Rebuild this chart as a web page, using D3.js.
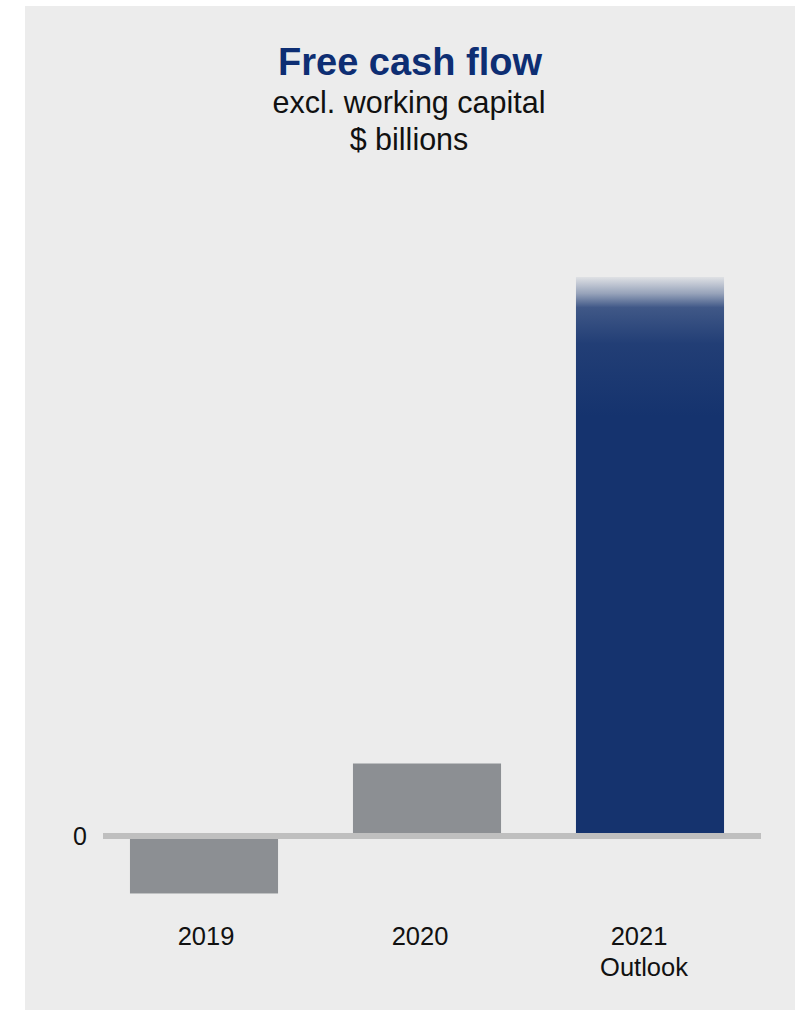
<!DOCTYPE html>
<html>
<head>
<meta charset="utf-8">
<script src="https://d3js.org/d3.v7.min.js"></script>
<style>
  html, body { margin: 0; padding: 0; background: #fff; }
  svg { display: block; font-family: "Liberation Sans", Arial, sans-serif; }
</style>
</head>
<body>
<div id="chart"></div>
<script>
// chart data
const categories = ["2019", "2020", "2021"];
const subLabels = ["", "", "Outlook"];
const values = [-0.87, 1.0, 8.0];
const barColors = ["#8c8f93", "#8c8f93", "#15336e"];
const yTicks = [0];

// layout
const width = 795, height = 1010;
const labelShift = [2, -7, -11]; // labels in the source sit a bit off the bar centres

const svg = d3.select("#chart").append("svg")
  .attr("width", width)
  .attr("height", height);

// grey panel
svg.append("rect")
  .attr("x", 25).attr("y", 6)
  .attr("width", width - 25).attr("height", height - 6)
  .attr("fill", "#ececec");

// titles
svg.append("text")
  .attr("x", 410).attr("y", 75)
  .attr("text-anchor", "middle")
  .attr("font-size", 38).attr("font-weight", "bold")
  .attr("fill", "#0e2e73")
  .text("Free cash flow");

svg.append("text")
  .attr("x", 409).attr("y", 113)
  .attr("text-anchor", "middle")
  .attr("font-size", 30.5)
  .attr("fill", "#111")
  .text("excl. working capital");

svg.append("text")
  .attr("x", 409).attr("y", 150)
  .attr("text-anchor", "middle")
  .attr("font-size", 30.5)
  .attr("fill", "#111")
  .text("$ billions");

// scales
const x = d3.scaleBand()
  .domain(categories)
  .range([92.5, 761.5])
  .paddingInner(0.336)
  .paddingOuter(0.168);

const y = d3.scaleLinear()
  .domain([0, 8])
  .range([833, 277]);

// fade at the top of the outlook bar
const defs = svg.append("defs");
const grad = defs.append("linearGradient")
  .attr("id", "fade")
  .attr("x1", 0).attr("y1", 0).attr("x2", 0).attr("y2", 1);
[[0, 0.06], [0.03, 0.4], [0.055, 0.8], [0.12, 0.94], [0.25, 1]].forEach(([o, a]) => {
  grad.append("stop")
    .attr("offset", o)
    .attr("stop-color", "#15336e")
    .attr("stop-opacity", a);
});

const data = categories.map((c, i) => ({ cat: c, sub: subLabels[i], value: values[i], color: barColors[i], i }));

svg.append("g")
  .selectAll("rect")
  .data(data)
  .join("rect")
  .attr("x", d => x(d.cat))
  .attr("width", x.bandwidth())
  .attr("y", d => Math.min(y(0), y(d.value)))
  .attr("height", d => Math.abs(y(d.value) - y(0)))
  .attr("fill", d => d.cat === "2021" ? "url(#fade)" : d.color);

// zero line
svg.append("rect")
  .attr("x", 103).attr("y", y(0))
  .attr("width", 761 - 103).attr("height", 6)
  .attr("fill", "#bfbfbf");

// y tick
svg.append("g")
  .selectAll("text")
  .data(yTicks)
  .join("text")
  .attr("x", 80).attr("y", d => y(d) + 12)
  .attr("text-anchor", "middle")
  .attr("font-size", 25)
  .attr("fill", "#111")
  .text(d => d);

// category labels
const lab = svg.append("g")
  .selectAll("text")
  .data(data)
  .join("text")
  .attr("text-anchor", "middle")
  .attr("font-size", 25.5)
  .attr("fill", "#111");

lab.append("tspan")
  .attr("x", d => x(d.cat) + x.bandwidth() / 2 + labelShift[d.i])
  .attr("y", 945)
  .text(d => d.cat);

lab.filter(d => d.sub)
  .append("tspan")
  .attr("x", d => x(d.cat) + x.bandwidth() / 2 + labelShift[d.i] + 5)
  .attr("y", 976)
  .text(d => d.sub);
</script>
</body>
</html>
